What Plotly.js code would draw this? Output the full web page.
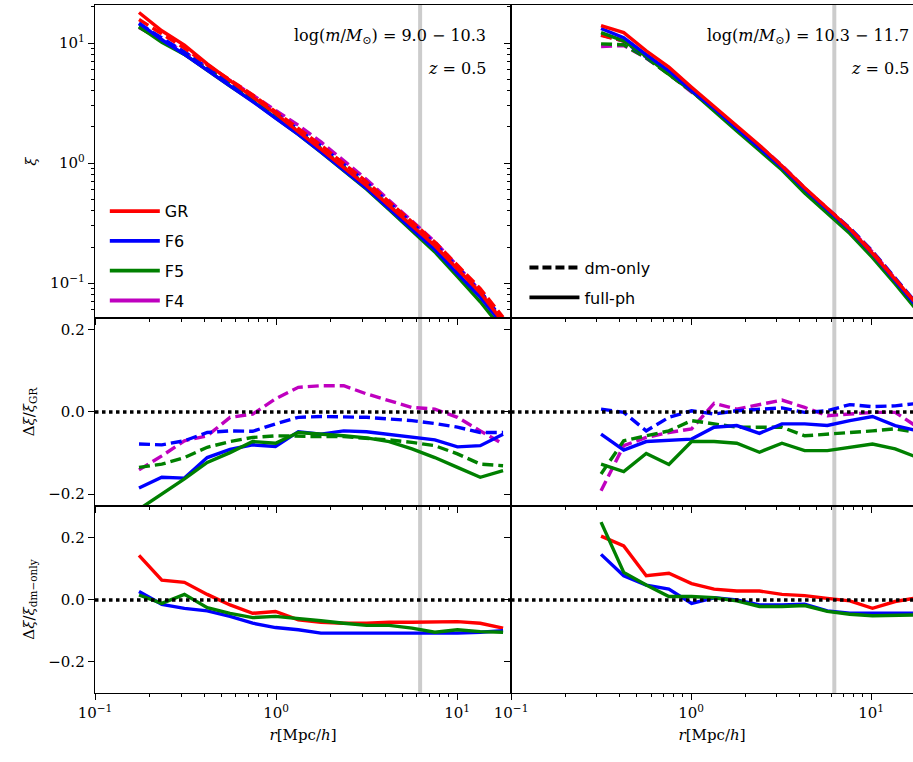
<!DOCTYPE html>
<html>
<head>
<meta charset="utf-8">
<script src="https://cdn.plot.ly/plotly-3.0.1.min.js"></script>
<style>body{margin:0;background:#fff}#plot{width:913px;height:762px}</style>
</head>
<body>
<div id="plot"></div>
<script>
// separations in Mpc/h (log10)
var logr_left = [-0.757,-0.631,-0.506,-0.380,-0.254,-0.129,-0.003,0.123,0.248,0.374,0.500,0.625,0.751,0.877,1.002,1.128,1.254];
var logr_right = [-0.500,-0.374,-0.249,-0.123,0.003,0.128,0.254,0.380,0.505,0.631,0.757,0.882,1.008,1.134,1.259];

// xi of GR dm-only
var xi_gr_dm_left = [15.7,11.9,9.08,6.59,4.94,3.70,2.69,1.95,1.41,0.99,0.70,0.475,0.324,0.220,0.141,0.090,0.052];
var xi_gr_dm_right = [11.6,10.4,8.0,5.80,4.07,2.86,1.95,1.37,0.93,0.614,0.418,0.284,0.182,0.109,0.065];

// Δξ/ξ_GR, middle panels
var d_f4_dm_left = [-0.141,-0.107,-0.070,-0.058,-0.013,-0.005,0.032,0.060,0.064,0.064,0.044,0.028,0.011,0.007,-0.013,-0.046,-0.078];
var d_f6_dm_left = [-0.078,-0.080,-0.070,-0.050,-0.046,-0.047,-0.029,-0.013,-0.011,-0.011,-0.013,-0.017,-0.021,-0.028,-0.037,-0.050,-0.050];
var d_f5_dm_left = [-0.135,-0.127,-0.111,-0.086,-0.072,-0.062,-0.058,-0.060,-0.060,-0.060,-0.063,-0.068,-0.074,-0.082,-0.102,-0.127,-0.131];
var d_f6_full_left = [-0.185,-0.159,-0.161,-0.111,-0.091,-0.080,-0.084,-0.048,-0.054,-0.046,-0.048,-0.054,-0.060,-0.068,-0.085,-0.082,-0.054];
var d_f5_full_left = [-0.237,-0.200,-0.163,-0.123,-0.099,-0.072,-0.076,-0.050,-0.055,-0.058,-0.063,-0.072,-0.090,-0.111,-0.135,-0.159,-0.143];

var d_f4_dm_right = [-0.192,-0.082,-0.062,-0.050,-0.041,0.021,0.007,0.018,0.029,0.011,-0.009,-0.005,-0.001,-0.001,-0.037];
var d_f6_dm_right = [0.007,-0.001,-0.046,-0.013,0.003,-0.005,0.003,0.007,0.010,-0.001,0.003,0.018,0.013,0.015,0.021];
var d_f5_dm_right = [-0.151,-0.070,-0.058,-0.046,-0.021,-0.029,-0.037,-0.037,-0.037,-0.058,-0.054,-0.052,-0.046,-0.041,-0.050];
var d_f6_full_right = [-0.054,-0.093,-0.072,-0.068,-0.066,-0.037,-0.033,-0.052,-0.029,-0.029,-0.033,-0.021,-0.011,-0.033,-0.046];
var d_f5_full_right = [-0.127,-0.145,-0.101,-0.128,-0.072,-0.072,-0.076,-0.098,-0.076,-0.094,-0.094,-0.085,-0.078,-0.090,-0.111];

// Δξ/ξ_dm-only, bottom panels
var b_gr_left = [0.144,0.064,0.057,0.018,-0.016,-0.043,-0.037,-0.064,-0.072,-0.075,-0.075,-0.072,-0.072,-0.070,-0.070,-0.075,-0.091];
var b_f6_left = [0.027,-0.014,-0.027,-0.035,-0.053,-0.075,-0.089,-0.096,-0.107,-0.107,-0.108,-0.109,-0.109,-0.109,-0.107,-0.104,-0.099];
var b_f5_left = [0.016,-0.011,0.018,-0.025,-0.043,-0.057,-0.053,-0.059,-0.067,-0.075,-0.082,-0.082,-0.091,-0.104,-0.096,-0.102,-0.104];
var b_gr_right = [0.206,0.174,0.078,0.086,0.053,0.035,0.029,0.029,0.018,0.014,0.005,-0.003,-0.027,-0.005,0.007];
var b_f6_right = [0.147,0.078,0.048,0.035,-0.011,0.007,0.0,-0.016,-0.016,-0.014,-0.035,-0.043,-0.043,-0.043,-0.043];
var b_f5_right = [0.251,0.089,0.048,0.011,0.011,0.007,-0.003,-0.021,-0.021,-0.018,-0.037,-0.046,-0.051,-0.048,-0.048];

var models = ['GR','F6','F5','F4'];
var colors = {GR:'#ff0000', F6:'#0000ff', F5:'#008000', F4:'#bf00bf'};
var r_split = 6.25;
var DASH = '11px,5px';

var traces = [];
function line(xs, ys, col, dash, xa, ya){
    traces.push({x:xs, y:ys, xaxis:xa, yaxis:ya, mode:'lines', showlegend:false,
        line:{color:col, width:3.4, dash:dash}, hoverinfo:'skip'});
}
function mul(a, d){ return a.map((v,i)=>v*(1+d[i])); }

function panel(logr, xi_dm, d, b, xa_top, ya_top, xa_mid, ya_mid, xa_bot, ya_bot){
    var r = logr.map(v=>Math.pow(10,v));
    var gr_full = mul(xi_dm, b.gr);
    // top: xi
    line(r, mul(xi_dm, d.f4_dm), colors.F4, DASH, xa_top, ya_top);
    line(r, mul(xi_dm, d.f5_dm), colors.F5, DASH, xa_top, ya_top);
    line(r, mul(xi_dm, d.f6_dm), colors.F6, DASH, xa_top, ya_top);
    line(r, xi_dm, colors.GR, DASH, xa_top, ya_top);
    line(r, mul(gr_full, d.f5_full), colors.F5, 'solid', xa_top, ya_top);
    line(r, mul(gr_full, d.f6_full), colors.F6, 'solid', xa_top, ya_top);
    line(r, gr_full, colors.GR, 'solid', xa_top, ya_top);
    // middle: relative to GR
    line(r, d.f4_dm, colors.F4, DASH, xa_mid, ya_mid);
    line(r, d.f6_dm, colors.F6, DASH, xa_mid, ya_mid);
    line(r, d.f5_dm, colors.F5, DASH, xa_mid, ya_mid);
    line(r, d.f6_full, colors.F6, 'solid', xa_mid, ya_mid);
    line(r, d.f5_full, colors.F5, 'solid', xa_mid, ya_mid);
    // bottom: relative to dm-only
    line(r, b.gr, colors.GR, 'solid', xa_bot, ya_bot);
    line(r, b.f6, colors.F6, 'solid', xa_bot, ya_bot);
    line(r, b.f5, colors.F5, 'solid', xa_bot, ya_bot);
}
panel(logr_left, xi_gr_dm_left,
    {f4_dm:d_f4_dm_left, f6_dm:d_f6_dm_left, f5_dm:d_f5_dm_left, f6_full:d_f6_full_left, f5_full:d_f5_full_left},
    {gr:b_gr_left, f6:b_f6_left, f5:b_f5_left}, 'x','y','x3','y3','x5','y5');
panel(logr_right, xi_gr_dm_right,
    {f4_dm:d_f4_dm_right, f6_dm:d_f6_dm_right, f5_dm:d_f5_dm_right, f6_full:d_f6_full_right, f5_full:d_f5_full_right},
    {gr:b_gr_right, f6:b_f6_right, f5:b_f5_right}, 'x2','y2','x4','y4','x6','y6');

// legend proxies
models.forEach(m=>traces.push({x:[null], y:[null], mode:'lines', name:m, legend:'legend', legendgroup:m,
    line:{color:colors[m], width:3.8}}));
traces.push({x:[null], y:[null], mode:'lines', name:'dm-only', legend:'legend2', legendgroup:'dm', xaxis:'x2', yaxis:'y2',
    line:{color:'black', width:3.8, dash:'9px,4px'}});
traces.push({x:[null], y:[null], mode:'lines', name:'full-ph', legend:'legend2', legendgroup:'full', xaxis:'x2', yaxis:'y2',
    line:{color:'black', width:3.8}});

var serif = 'DejaVu Serif, serif';
var tickfont = {family:serif, size:15, color:'black'};
var xl = [0, 0.5086], xr = [0.5086, 1];
var yb = [0, 0.2718], ym = [0.2718, 0.5451], yt = [0.5451, 1];

function xax(dom, range, labels, anchor){
    var ax = {domain:dom, type:'log', range:range, anchor:anchor,
        showline:true, mirror:true, linecolor:'black', linewidth:1.3, showgrid:false, zeroline:false,
        ticks:'outside', ticklen:6, tickcolor:'black',
        tickvals:[0.1,1,10], ticktext:['10<sup>−1</sup>','10<sup>0</sup>','10<sup>1</sup>'],
        showticklabels:labels, tickfont:tickfont,
        minor:{ticks:'outside', ticklen:3, tickcolor:'black',
            tickvals:[0.2,0.3,0.4,0.5,0.6,0.7,0.8,0.9,2,3,4,5,6,7,8,9]}};
    if(labels) ax.title = {text:'<i>r</i>[Mpc/<i>h</i>]', font:{family:serif, size:15, color:'black'}, standoff:8};
    return ax;
}
function yax(dom, range, anchor, labels, title, type, vals, text){
    var ax = {domain:dom, range:range, anchor:anchor, type:type,
        showline:true, mirror:true, linecolor:'black', linewidth:1.3, showgrid:false, zeroline:false,
        ticks:'outside', ticklen:6, tickcolor:'black', tickvals:vals, ticktext:text,
        showticklabels:labels, tickfont:tickfont};
    if(type=='log') ax.minor = {ticks:'outside', ticklen:3, tickcolor:'black',
        tickvals:[0.06,0.07,0.08,0.09,0.2,0.3,0.4,0.5,0.6,0.7,0.8,0.9,2,3,4,5,6,7,8,9,20]};
    if(title) ax.title = {text:title, font:{family:serif, size:15, color:'black'}, standoff:10};
    return ax;
}
var logvals = [0.1,1,10], logtext = ['10<sup>−1</sup>','10<sup>0</sup>','10<sup>1</sup>'];
var linvals = [-0.2,0,0.2], lintext = ['−0.2','0.0','0.2'];

var shapes = [];
['x','x2'].forEach(function(xa){
    shapes.push({type:'line', xref:xa, yref:'paper', x0:r_split, x1:r_split, y0:0, y1:1,
        line:{color:'#cccccc', width:4}, layer:'below'});
});
[['x3','y3'],['x4','y4'],['x5','y5'],['x6','y6']].forEach(function(p){
    shapes.push({type:'line', xref:p[0]+' domain', yref:p[1], x0:0, x1:1, y0:0, y1:0,
        line:{color:'black', width:3.5, dash:'dot'}});
});

var annfont = {family:serif, size:16, color:'black'};
var legfont = {family:'DejaVu Sans, sans-serif', size:16, color:'black'};
var layout = {
    width:913, height:762,
    margin:{l:95, r:0, t:5, b:69},
    paper_bgcolor:'white', plot_bgcolor:'white',
    xaxis: xax(xl, [-1, 1.298], false, 'y'),
    xaxis2: xax(xr, [-1, 1.233], false, 'y2'),
    xaxis3: xax(xl, [-1, 1.298], false, 'y3'),
    xaxis4: xax(xr, [-1, 1.233], false, 'y4'),
    xaxis5: xax(xl, [-1, 1.298], true, 'y5'),
    xaxis6: xax(xr, [-1, 1.233], true, 'y6'),
    yaxis: yax(yt, [-1.29, 1.317], 'x', true, '<i>ξ</i>', 'log', logvals, logtext),
    yaxis2: yax(yt, [-1.29, 1.317], 'x2', false, null, 'log', logvals, logtext),
    yaxis3: yax(ym, [-0.229, 0.229], 'x3', true, 'Δ<i>ξ</i>/<i>ξ</i><sub>GR</sub>', 'linear', linvals, lintext),
    yaxis4: yax(ym, [-0.229, 0.229], 'x4', false, null, 'linear', linvals, lintext),
    yaxis5: yax(yb, [-0.3, 0.303], 'x5', true, 'Δ<i>ξ</i>/<i>ξ</i><sub>dm−only</sub>', 'linear', linvals, lintext),
    yaxis6: yax(yb, [-0.3, 0.303], 'x6', false, null, 'linear', linvals, lintext),
    shapes:shapes,
    legend:{x:0.012, y:0.725, xanchor:'left', yanchor:'top', bgcolor:'rgba(0,0,0,0)',
        font:legfont, tracegroupgap:6, itemwidth:50},
    legend2:{x:0.525, y:0.643, xanchor:'left', yanchor:'top', bgcolor:'rgba(0,0,0,0)',
        font:legfont, tracegroupgap:6, itemwidth:50},
    annotations:[
        {xref:'x domain', yref:'y domain', x:0.945, y:0.94, xanchor:'right', yanchor:'top', showarrow:false,
            text:'log(<i>m</i>/<i>M</i><sub>⊙</sub>) = 9.0 − 10.3', font:annfont},
        {xref:'x domain', yref:'y domain', x:0.945, y:0.835, xanchor:'right', yanchor:'top', showarrow:false,
            text:'<i>z</i> = 0.5', font:annfont},
        {xref:'x2 domain', yref:'y2 domain', x:0.995, y:0.94, xanchor:'right', yanchor:'top', showarrow:false,
            text:'log(<i>m</i>/<i>M</i><sub>⊙</sub>) = 10.3 − 11.7', font:annfont},
        {xref:'x2 domain', yref:'y2 domain', x:0.995, y:0.835, xanchor:'right', yanchor:'top', showarrow:false,
            text:'<i>z</i> = 0.5', font:annfont}
    ]
};
Plotly.newPlot('plot', traces, layout, {displayModeBar:false, staticPlot:true});
</script>
</body>
</html>
